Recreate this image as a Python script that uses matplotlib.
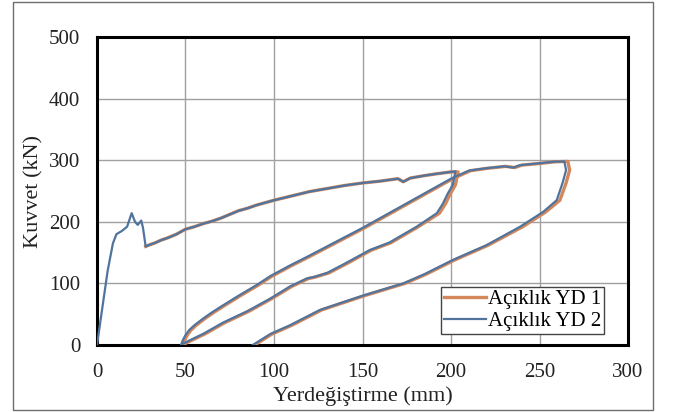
import matplotlib.pyplot as plt
from matplotlib.patches import Rectangle

plt.rcParams['font.family'] = ['Liberation Serif', 'DejaVu Serif']

# Açıklık YD 2 (blue) - full path: loading, unload, reload, unload
yd2_x = [0, 3, 6, 9, 11, 14, 17, 19.6, 21.5, 23, 25, 26, 27.5, 30, 33, 36, 40, 45, 50,
         55, 60, 65, 70, 75, 80, 85, 90, 95, 100, 110, 120, 130, 140, 150, 160, 170,
         173, 177, 185, 192, 200, 202.5,
         201, 198, 195.5, 192, 180.6, 165, 154, 140, 130, 122, 118.5, 109, 97.7, 85,
         71, 60, 52, 48.6, 47.5,
         48.5, 50, 52, 55, 60, 65, 71, 80, 90, 98, 109, 120, 130, 140, 150, 160, 170, 180,
         190, 200, 210, 220, 230, 235, 239, 250, 258, 264,
         265, 263, 259.7, 252, 239, 220, 201, 185, 173, 150, 126, 109, 98, 88]
yd2_y = [0, 60, 120, 165, 180, 185, 192, 214, 200, 195, 202, 190, 160, 163, 166, 170, 174, 180, 188,
         192, 197, 201, 206, 212, 218, 222, 227, 231, 235, 242, 249, 254, 259, 263, 266, 270,
         265, 271, 275, 278, 281, 282,
         260, 245, 230, 214, 192, 166, 154, 132, 117, 110, 108, 95, 75, 55,
         36, 18, 7, 2, 0,
         8, 16, 24, 32, 43, 53, 64, 80, 97, 112, 129, 145, 160, 175, 190, 206, 222, 238,
         254, 270, 283, 287, 290, 288, 292, 295, 297.5, 298,
         284, 263, 235, 216, 192, 162, 138, 115, 100, 80, 57, 32, 18, 0]

# Açıklık YD 1 (orange) - nearly the same path, slightly wider at the tips
yd1_x = [27.5, 30, 33, 36, 40, 45, 50, 55, 60, 65, 70, 75, 80, 85, 90, 95, 100, 110,
         120, 130, 140, 150, 160, 170, 173, 177, 185, 192, 200, 204,
         202.5, 199.5, 197, 193.5, 181.5, 166, 155, 141, 131, 123, 119.5, 110, 98.5, 86,
         72, 61, 53, 49.5, 48.5,
         49.5, 51, 53, 56, 61, 66, 72, 81, 91, 99, 110, 121, 131, 141, 151, 161, 171, 181,
         191, 201, 211, 221, 231, 236, 240, 251, 259, 266,
         267, 265, 261.5, 253.5, 240.5, 221, 202, 186, 174, 151, 127, 110, 99, 89]
yd1_y = [160, 163, 166, 170, 174, 180, 188, 192, 197, 201, 206, 212, 218, 222, 227, 231, 235, 242,
         249, 254, 259, 263, 266, 270, 265, 271, 275, 278, 281, 281,
         260, 245, 230, 214, 192, 166, 154, 132, 117, 110, 108, 95, 75, 55,
         36, 18, 7, 2, 0,
         8, 16, 24, 32, 43, 53, 64, 80, 97, 112, 129, 145, 160, 175, 190, 206, 222, 238,
         254, 270, 283, 287, 290, 288, 292, 295, 297.5, 298,
         284, 263, 235, 216, 192, 162, 138, 115, 100, 80, 57, 32, 18, 0]

fig = plt.figure(figsize=(6.74, 4.12), dpi=100)
ax = fig.add_axes([0.1439, 0.1626, 0.7879, 0.7476])

# thin frame around the whole picture
fig.patches.append(Rectangle((0.0193, 0.005), 0.9495, 0.99, transform=fig.transFigure,
                             fill=False, edgecolor='#6e6e6e', linewidth=1.0))

ax.plot(yd1_x, yd1_y, color='#D4875A', linewidth=2.4, label='Açıklık YD 1', zorder=3)
ax.plot(yd2_x, yd2_y, color='#50749E', linewidth=1.6, label='Açıklık YD 2', zorder=4)

ax.set_xlim(0, 300)
ax.set_ylim(0, 500)
ax.set_xticks(range(0, 301, 50))
ax.set_yticks(range(0, 501, 100))
ax.grid(True, color='#a0a0a0', linewidth=1.0)
ax.set_axisbelow(True)
for s in ax.spines.values():
    s.set_linewidth(2.2)
    s.set_color('black')
ax.tick_params(length=0, labelsize=15, colors='#222222')
ax.tick_params(axis='x', pad=13)
ax.tick_params(axis='y', pad=12)

ax.set_xlabel('Yerdeğiştirme (mm)', fontsize=16, labelpad=3, color='#222222')
ax.set_ylabel('Kuvvet (kN)', fontsize=16, labelpad=4, color='#222222')

leg = ax.legend(loc='lower right', bbox_to_anchor=(0.955, 0.035), borderaxespad=0,
                fontsize=15, frameon=True, fancybox=False, framealpha=1,
                edgecolor='#444444', handlelength=2.0, handletextpad=0.1,
                borderpad=0.15, labelspacing=0.1)
leg.get_frame().set_linewidth(1.0)

fig.savefig('out.png', dpi=100)
